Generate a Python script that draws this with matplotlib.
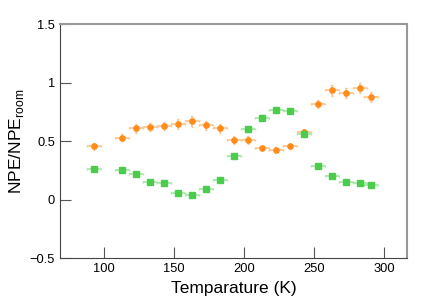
import matplotlib
matplotlib.use("Agg")
import matplotlib.pyplot as plt

plt.rcParams['font.family'] = ['Liberation Sans', 'DejaVu Sans']

# ====== data ======
temp_orange = [93, 113, 123, 133, 143, 153, 163, 173, 183, 193,
               203, 213, 223, 233, 243, 253, 263, 273, 283, 291]
npe_orange = [0.457, 0.529, 0.608, 0.617, 0.628, 0.645, 0.670, 0.634, 0.608, 0.512,
              0.512, 0.440, 0.427, 0.455, 0.577, 0.818, 0.932, 0.912, 0.955, 0.875]
err_orange = [0.03, 0.03, 0.035, 0.035, 0.035, 0.045, 0.048, 0.04, 0.04, 0.035,
              0.035, 0.02, 0.02, 0.02, 0.03, 0.035, 0.045, 0.045, 0.045, 0.045]

temp_green = [93, 113, 123, 133, 143, 153, 163, 173, 183, 193,
              203, 213, 223, 233, 243, 253, 263, 273, 283, 291]
npe_green = [0.259, 0.256, 0.216, 0.151, 0.142, 0.052, 0.043, 0.091, 0.163, 0.370,
             0.600, 0.699, 0.764, 0.761, 0.557, 0.290, 0.202, 0.154, 0.140, 0.123]
err_green = [0.012, 0.01, 0.01, 0.01, 0.01, 0.01, 0.01, 0.01, 0.01, 0.015,
             0.02, 0.02, 0.025, 0.025, 0.025, 0.012, 0.01, 0.01, 0.01, 0.01]

temp_err = 5

# ====== plot ======
fig = plt.figure(figsize=(4.24, 3.04), dpi=100)
ax = fig.add_axes([0.1415, 0.151, 0.8185, 0.770])

ax.errorbar(temp_orange, npe_orange, xerr=temp_err, yerr=err_orange,
            fmt='none', ecolor='#ffc48a', elinewidth=1.2, capsize=1, zorder=2)
ax.plot(temp_orange, npe_orange, 'o', color='#ff8c1a', markersize=3.8, zorder=3)

ax.errorbar(temp_green, npe_green, xerr=temp_err, yerr=err_green,
            fmt='none', ecolor='#a3e8a3', elinewidth=1.2, capsize=1, zorder=2)
ax.plot(temp_green, npe_green, 's', color='#4ccc4c', markersize=3.8, zorder=3)

ax.set_xlim(68.5, 316.5)
ax.set_ylim(-0.5, 1.5)
ax.set_xticks([100, 150, 200, 250, 300])
ax.set_yticks([-0.5, 0, 0.5, 1, 1.5])
ax.set_yticklabels(['\u22120.5', '0', '0.5', '1', '1.5'])
ax.tick_params(direction='in', length=8, width=0.8, labelsize=9.3, color='#555555', pad=3.5)

for side in ['top', 'right']:
    ax.spines[side].set_color('#999999')
    ax.spines[side].set_linewidth(1.5)
for side in ['left', 'bottom']:
    ax.spines[side].set_color('#444444')
    ax.spines[side].set_linewidth(0.8)

ax.set_xlabel('Temparature (K)', fontsize=12.5, labelpad=4)
ax.set_ylabel('NPE/NPE$_{\\mathregular{room}}$', fontsize=12.5, labelpad=3)

plt.savefig('out.png', dpi=100)
